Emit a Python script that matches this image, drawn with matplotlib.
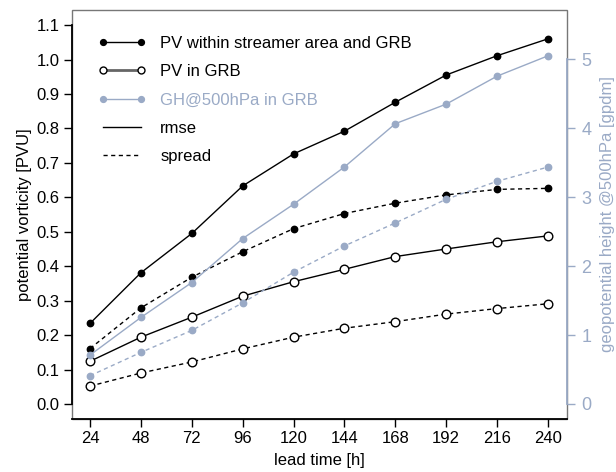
import numpy as np
import matplotlib
matplotlib.use("Agg")
import matplotlib.pyplot as plt
from matplotlib.lines import Line2D
from matplotlib.patches import Rectangle

plt.rcParams['font.family'] = ['Liberation Sans', 'DejaVu Sans']

lead = [24, 48, 72, 96, 120, 144, 168, 192, 216, 240]

# PV within streamer area and GRB [PVU]
pv_str_rmse = [0.234, 0.381, 0.495, 0.633, 0.726, 0.792, 0.876, 0.955, 1.011, 1.060]
pv_str_spread = [0.161, 0.279, 0.368, 0.442, 0.509, 0.553, 0.583, 0.607, 0.623, 0.626]
# PV in GRB [PVU]
pv_grb_rmse = [0.124, 0.194, 0.252, 0.313, 0.355, 0.391, 0.428, 0.450, 0.471, 0.488]
pv_grb_spread = [0.052, 0.090, 0.122, 0.160, 0.194, 0.220, 0.239, 0.261, 0.277, 0.291]
# GH@500hPa in GRB [gpdm]
gh_rmse = [0.71, 1.256, 1.763, 2.401, 2.899, 3.44, 4.068, 4.352, 4.758, 5.053]
gh_spread = [0.41, 0.749, 1.068, 1.468, 1.913, 2.294, 2.628, 2.971, 3.232, 3.439]

pv_ticks = [0.0, 0.1, 0.2, 0.3, 0.4, 0.5, 0.6, 0.7, 0.8, 0.9, 1.0, 1.1]
gh_ticks = [0, 1, 2, 3, 4, 5]

blue = '#9aaac6'

fig = plt.figure(figsize=(6.16, 4.72), dpi=100)
ax = fig.add_axes([0.1169, 0.1123, 0.8036, 0.8665])
ax2 = ax.twinx()

lw = 1.0
dsh = (3, 2.5)
ax.plot(lead, pv_str_rmse, '-', color='k', lw=lw, marker='o', ms=4.6, mfc='k', mec='k')
ax.plot(lead, pv_str_spread, '--', color='k', lw=lw, marker='o', ms=4.6, mfc='k', mec='k', dashes=dsh)
ax.plot(lead, pv_grb_rmse, '-', color='k', lw=lw, marker='o', ms=6.2, mfc='white', mec='k', mew=1.0)
ax.plot(lead, pv_grb_spread, '--', color='k', lw=lw, marker='o', ms=6.2, mfc='white', mec='k', mew=1.0, dashes=dsh)
ax2.plot(lead, gh_rmse, '-', color=blue, lw=lw, marker='o', ms=4.6, mfc=blue, mec=blue)
ax2.plot(lead, gh_spread, '--', color=blue, lw=lw, marker='o', ms=4.6, mfc=blue, mec=blue, dashes=dsh)

ax.set_xlim(15.5, 249)
ax.set_ylim(-0.0435, 1.1437)
ax2.set_ylim(-0.2177, 5.718)
ax.set_xticks(lead)
ax.set_yticks(pv_ticks)
ax.set_yticklabels([f"{v:.1f}" for v in pv_ticks])
ax2.set_yticks(gh_ticks)

for s in ['top', 'left', 'right', 'bottom']:
    ax.spines[s].set_visible(False)
    ax2.spines[s].set_visible(False)
ax.add_patch(Rectangle((0, 0), 1, 1, transform=ax.transAxes, fill=False,
                       edgecolor='#777777', lw=1.0, clip_on=False, zorder=0))
ax.spines['left'].set_visible(True)
ax.spines['left'].set_bounds(0, 1.1)
ax.spines['left'].set_linewidth(1.3)
ax.spines['bottom'].set_visible(True)
ax.spines['bottom'].set_linewidth(1.3)
ax2.spines['right'].set_visible(True)
ax2.spines['right'].set_color(blue)
ax2.spines['right'].set_bounds(0, 5)
ax2.spines['right'].set_linewidth(1.3)

ax.tick_params(axis='both', direction='out', length=6, width=1.0, labelsize=12, pad=3)
ax2.tick_params(axis='y', direction='out', length=5.5, width=1.0, labelsize=13,
                colors=blue, pad=5)

ax.set_xlabel('lead time [h]', fontsize=12, labelpad=5)
ax.set_ylabel('potential vorticity [PVU]', fontsize=12, labelpad=3)
ax2.set_ylabel('geopotential height @500hPa [gpdm]', fontsize=12, color=blue, labelpad=6)

handles = [
    Line2D([], [], color='k', lw=lw, marker='o', ms=4.2, mfc='k', mec='k'),
    Line2D([], [], color='#666666', lw=2, marker='o', ms=5, mfc='white', mec='k'),
    Line2D([], [], color=blue, lw=lw, marker='o', ms=4.2, mfc=blue, mec=blue),
    Line2D([], [], color='k', lw=lw),
    Line2D([], [], color='k', lw=lw, ls='--', dashes=dsh),
]
labels = ['PV within streamer area and GRB', 'PV in GRB', 'GH@500hPa in GRB', 'rmse', 'spread']
leg = ax.legend(handles, labels, loc='upper left', frameon=False, fontsize=12,
                numpoints=2, handlelength=2.9, handletextpad=0.84, labelspacing=0.8,
                borderaxespad=0.0, bbox_to_anchor=(0.039, 0.953))
leg.get_texts()[2].set_color(blue)

fig.savefig('out.png', dpi=100)
